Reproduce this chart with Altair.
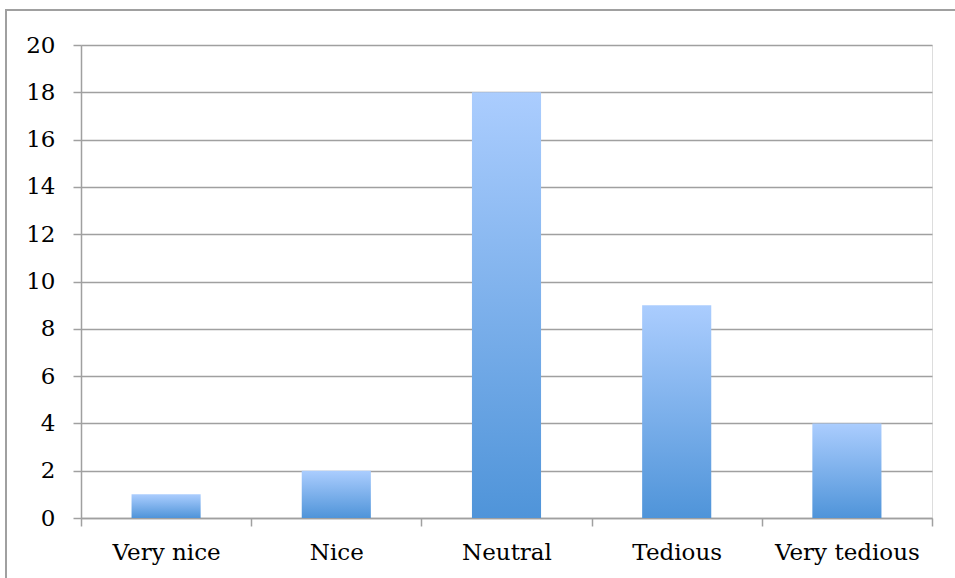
import altair as alt
import pandas as pd

categories = ["Very nice", "Nice", "Neutral", "Tedious", "Very tedious"]
counts = [1, 2, 18, 9, 4]
y_ticks = [0, 2, 4, 6, 8, 10, 12, 14, 16, 18, 20]

df = pd.DataFrame({"category": categories, "count": counts})

FONT = "DejaVu Serif"
GRID = "#a0a0a0"

gradient = alt.Gradient(
    gradient="linear",
    x1=0, y1=0, x2=0, y2=1,
    stops=[alt.GradientStop(offset=0, color="#abcdfe"),
           alt.GradientStop(offset=1, color="#4f94d9")],
)

bars = alt.Chart(df).mark_bar(color=gradient, width=alt.RelativeBandSize(0.406)).encode(
    x=alt.X("category:N", sort=categories, title=None,
            scale=alt.Scale(paddingInner=0, paddingOuter=0),
            axis=alt.Axis(labelAngle=0, labelFont=FONT, labelFontSize=23,
                          labelColor="black", labelPadding=15,
                          tickBand="extent", tickSize=8, tickColor=GRID,
                          tickWidth=1.5, domainColor=GRID, domainWidth=1.5,
                          grid=False)),
    y=alt.Y("count:Q", title=None,
            scale=alt.Scale(domain=[0, 20], nice=False),
            axis=alt.Axis(values=y_ticks, labelFont=FONT, labelFontSize=23,
                          labelColor="black", labelPadding=18, tickSize=8,
                          tickColor=GRID, tickWidth=1.5, domainColor=GRID,
                          domainWidth=1.5, gridColor=GRID, gridWidth=1.5)),
)

border = alt.Chart(pd.DataFrame({"b": [0]})).mark_rect(
    fill=None, stroke="#a0a0a0", strokeWidth=2
).encode(
    x=alt.value(-75), x2=alt.value(900),
    y=alt.value(-35), y2=alt.value(600),
)

chart = alt.layer(bars, border).properties(
    width=851, height=473,
    autosize=alt.AutoSizeParams(type="none"),
    padding={"left": 81, "top": 45, "right": 23, "bottom": 60},
).configure_view(stroke=None).configure(background="white")

chart.save("out.html", embed_options={"renderer": "svg", "actions": False})
